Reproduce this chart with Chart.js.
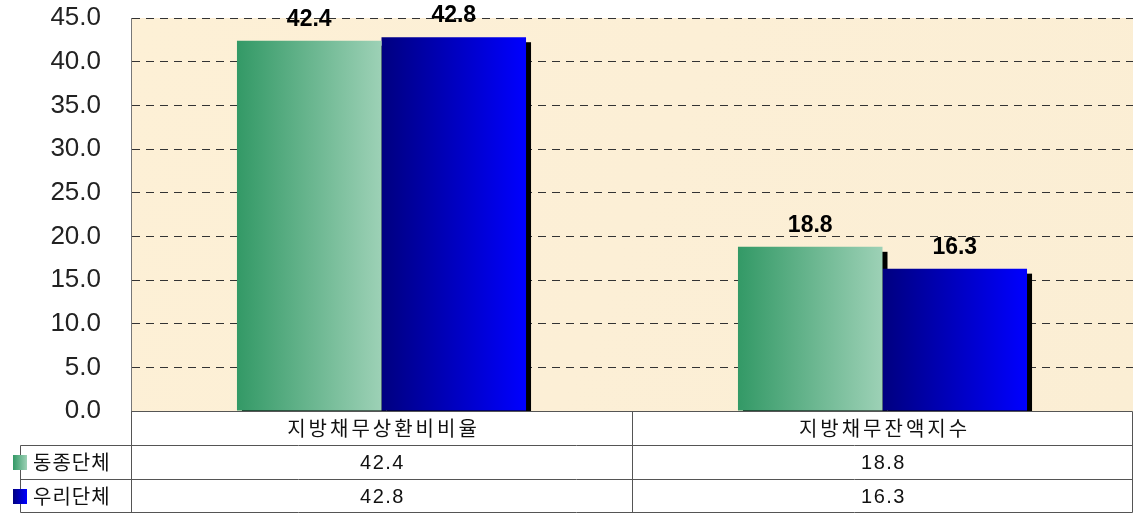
<!DOCTYPE html>
<html>
<head>
<meta charset="utf-8">
<script src="https://cdn.jsdelivr.net/npm/chart.js@4"></script>
<style>
  html, body { margin: 0; padding: 0; background: #fff; }
  #wrap { position: relative; width: 1133px; height: 513px; }
</style>
</head>
<body>
<div id="wrap"><canvas id="chart"></canvas></div>
<script>
// data
const categories = ['지방채무상환비비율', '지방채무잔액지수'];
const seriesNames = ['동종단체', '우리단체'];
const peerValues = [42.4, 18.8];
const ourValues = [42.8, 16.3];
const yMin = 0, yMax = 45, yStep = 5;

const GRAD = [
  ['#339966', '#9dd1b6'],
  ['#000080', '#0000ff'],
];
const TABLE_LINE = '#555';
const KR_FONT = '"Noto Sans CJK KR", sans-serif';
const NUM_FONT = '"Liberation Sans", Arial, sans-serif';

function hGrad(ctx, x0, x1, pair) {
  const g = ctx.createLinearGradient(x0, 0, x1, 0);
  g.addColorStop(0, pair[0]);
  g.addColorStop(1, pair[1]);
  return g;
}

/* plot background (parchment) */
const bgPlugin = {
  id: 'bg',
  beforeDraw(chart) {
    const { ctx, chartArea: a } = chart;
    ctx.save();
    const g = ctx.createLinearGradient(a.left, a.top, a.right, a.bottom);
    g.addColorStop(0, '#fdf0d6');
    g.addColorStop(0.5, '#fcefd6');
    g.addColorStop(1, '#fbeed4');
    ctx.fillStyle = g;
    ctx.fillRect(a.left, a.top, a.right - a.left, a.bottom - a.top);
    ctx.restore();
  },
};

/* gradient fills + drop shadow behind bars */
const barStyle = {
  id: 'barStyle',
  beforeDatasetsDraw(chart) {
    const { ctx, chartArea: a } = chart;
    ctx.save();
    ctx.beginPath();
    ctx.rect(a.left, a.top, a.right - a.left, a.bottom - a.top);
    ctx.clip();
    ctx.fillStyle = '#000';
    chart.data.datasets.forEach((ds, di) => {
      chart.getDatasetMeta(di).data.forEach((el) => {
        const { x, y, base, width } = el.getProps(['x', 'y', 'base', 'width'], true);
        ctx.fillRect(x - width / 2 + 5, y + 5, width, base - y);
      });
    });
    ctx.restore();
    chart.data.datasets.forEach((ds, di) => {
      chart.getDatasetMeta(di).data.forEach((el) => {
        const { x, width } = el.getProps(['x', 'width'], true);
        el.options = Object.assign({}, el.options, {
          backgroundColor: hGrad(ctx, x - width / 2, x + width / 2, GRAD[di]),
        });
      });
    });
  },
  afterDatasetsDraw(chart) {
    const { ctx } = chart;
    ctx.save();
    ctx.fillStyle = '#000';
    ctx.font = 'bold 23px ' + NUM_FONT;
    ctx.textAlign = 'center';
    ctx.textBaseline = 'alphabetic';
    chart.data.datasets.forEach((ds, di) => {
      chart.getDatasetMeta(di).data.forEach((el, i) => {
        const { x, y } = el.getProps(['x', 'y'], true);
        ctx.fillText(ds.data[i].toFixed(1), x, y - 15);
      });
    });
    ctx.restore();
  },
};

/* data table under the plot */
const dataTable = {
  id: 'dataTable',
  afterDraw(chart) {
    const { ctx, chartArea: a, scales: { x } } = chart;
    const rowH = 34;
    const top = a.bottom;
    const r1 = top + rowH, r2 = r1 + rowH, r3 = r2 + rowH - 1;
    const legLeft = 20;
    const right = chart.width - 1;
    const mid = (x.getPixelForValue(0) + x.getPixelForValue(1)) / 2;

    ctx.save();
    ctx.strokeStyle = TABLE_LINE;
    ctx.lineWidth = 1;
    const line = (x0, y0, x1, y1) => {
      ctx.beginPath();
      ctx.moveTo(Math.round(x0) + 0.5, Math.round(y0) + 0.5);
      ctx.lineTo(Math.round(x1) + 0.5, Math.round(y1) + 0.5);
      ctx.stroke();
    };
    line(a.left, top, right, top);
    line(legLeft, r1, right, r1);
    line(legLeft, r2, right, r2);
    line(legLeft, r3, right, r3);
    line(legLeft, r1, legLeft, r3);
    line(a.left, top, a.left, r3);
    line(mid, top, mid, r3);
    line(right, top, right, r3);

    ctx.fillStyle = '#111';
    ctx.textAlign = 'center';
    ctx.textBaseline = 'middle';
    ctx.font = '20px ' + KR_FONT;
    ctx.letterSpacing = '3px';
    categories.forEach((c, i) => {
      ctx.fillText(c, x.getPixelForValue(i) + 2, top + rowH / 2);
    });

    const vals = [peerValues, ourValues];
    ctx.font = '20px ' + NUM_FONT;
    ctx.letterSpacing = '1.5px';
    vals.forEach((arr, r) => {
      arr.forEach((v, i) => {
        ctx.fillText(v.toFixed(1), x.getPixelForValue(i) + 1, r1 + rowH * r + rowH / 2 + 1);
      });
    });

    // legend keys + series names
    seriesNames.forEach((n, r) => {
      const cy = r1 + rowH * r + rowH / 2;
      ctx.fillStyle = hGrad(ctx, 13, 27, GRAD[r]);
      ctx.fillRect(13, cy - 7, 14, 15);
      ctx.fillStyle = '#111';
      ctx.textAlign = 'left';
      ctx.font = '20px ' + KR_FONT;
      ctx.letterSpacing = '1px';
      ctx.fillText(n, 33, cy);
    });
    ctx.restore();
  },
};

new Chart(document.getElementById('chart'), {
  type: 'bar',
  data: {
    labels: categories,
    datasets: [
      { label: seriesNames[0], data: peerValues, backgroundColor: GRAD[0][0] },
      { label: seriesNames[1], data: ourValues, backgroundColor: GRAD[1][1] },
    ],
  },
  options: {
    responsive: true,
    maintainAspectRatio: false,
    animation: false,
    devicePixelRatio: 1,
    layout: { padding: { top: 18, right: 0, bottom: 102, left: 0 } },
    plugins: { legend: { display: false }, tooltip: { enabled: false } },
    datasets: { bar: { categoryPercentage: 0.577, barPercentage: 1.0, borderWidth: 0 } },
    scales: {
      x: {
        display: false,
      },
      y: {
        min: yMin,
        max: yMax,
        afterFit(scale) {
          scale.width = 131;
          scale.paddingTop = 12;
          scale.paddingBottom = 12;
        },
        ticks: {
          stepSize: yStep,
          padding: 30,
          color: '#222',
          font: { family: NUM_FONT, size: 26 },
          callback: (v) => Number(v).toFixed(1),
        },
        grid: {
          drawTicks: false,
          color: (c) => (c.tick && c.tick.value === 0 ? 'rgba(0,0,0,0)' : '#333'),
          lineWidth: 1,
        },
        border: { display: true, color: '#777', width: 1, dash: [8, 6] },
      },
    },
  },
  plugins: [bgPlugin, barStyle, dataTable],
});
</script>
</body>
</html>
